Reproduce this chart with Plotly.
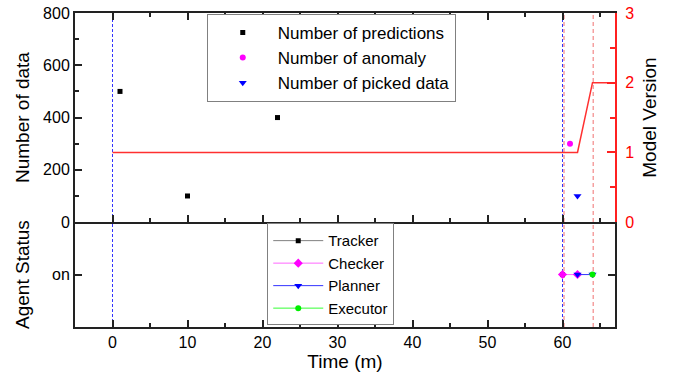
import plotly.graph_objects as go

# ---- data ----
pred_x = [1, 10, 22]
pred_y = [500, 100, 400]
anom_x = [61]
anom_y = [300]
pick_x = [62]
pick_y = [100]
ver_x = [0, 62, 64, 67]
ver_y = [1, 1, 2, 2]
tracker_x = [60]
checker_x = [60, 62]
planner_x = [62, 64]
executor_x = [64]
status_on = 1
blue_lines = [0, 60]
red_lines = [60.2, 64.1]

FONT = "Arial, Liberation Sans, sans-serif"
AX = "#222222"

fig = go.Figure()

fig.add_trace(go.Scatter(x=pred_x, y=pred_y, mode="markers", name="Number of predictions",
                         marker=dict(symbol="square", size=5, color="black"),
                         xaxis="x", yaxis="y", legend="legend"))
fig.add_trace(go.Scatter(x=anom_x, y=anom_y, mode="markers", name="Number of anomaly",
                         marker=dict(symbol="circle", size=6, color="#ff00ff"),
                         xaxis="x", yaxis="y", legend="legend"))
fig.add_trace(go.Scatter(x=pick_x, y=pick_y, mode="markers", name="Number of picked data",
                         marker=dict(symbol="triangle-down", size=7, color="#0000ff"),
                         xaxis="x", yaxis="y", legend="legend"))
fig.add_trace(go.Scatter(x=ver_x, y=ver_y, mode="lines", showlegend=False,
                         line=dict(color="#ff3030", width=1.5),
                         xaxis="x", yaxis="y2"))

fig.add_trace(go.Scatter(x=tracker_x, y=[status_on] * len(tracker_x), mode="lines+markers", name="Tracker",
                         line=dict(color="#808080", width=1),
                         marker=dict(symbol="square", size=5, color="black"),
                         xaxis="x2", yaxis="y3", legend="legend2"))
fig.add_trace(go.Scatter(x=checker_x, y=[status_on] * len(checker_x), mode="lines+markers", name="Checker",
                         line=dict(color="#ff66ff", width=1),
                         marker=dict(symbol="diamond", size=7, color="#ff00ff"),
                         xaxis="x2", yaxis="y3", legend="legend2"))
fig.add_trace(go.Scatter(x=planner_x, y=[status_on] * len(planner_x), mode="lines+markers", name="Planner",
                         line=dict(color="#3333ff", width=1),
                         marker=dict(symbol="triangle-down", size=7, color="#0000ff"),
                         xaxis="x2", yaxis="y3", legend="legend2"))
fig.add_trace(go.Scatter(x=executor_x, y=[status_on] * len(executor_x), mode="lines+markers", name="Executor",
                         line=dict(color="#33ff33", width=1),
                         marker=dict(symbol="circle", size=6, color="#00ee00"),
                         xaxis="x2", yaxis="y3", legend="legend2"))

shapes = []
for v in red_lines:
    shapes.append(dict(type="line", xref="x", yref="paper", x0=v, x1=v, y0=0, y1=1,
                       line=dict(color="#f5a0a0", width=1.5, dash="4px,3px"), layer="below"))
for v in blue_lines:
    shapes.append(dict(type="line", xref="x", yref="paper", x0=v, x1=v, y0=0, y1=1,
                       line=dict(color="#3333ff", width=1, dash="3px,2px"), layer="below"))

split = 0.334
xcommon = dict(range=[-5, 67], dtick=10, tick0=0, ticks="inside", ticklen=7, tickwidth=2,
               tickcolor=AX, showline=True, linecolor=AX, linewidth=2, showgrid=False,
               zeroline=False, automargin=False,
               minor=dict(dtick=5, ticks="inside", ticklen=4, tickwidth=2, tickcolor=AX),
               tickfont=dict(family=FONT, size=16, color="black"))

fig.update_layout(
    width=684, height=379,
    margin=dict(l=75, r=69, t=13, b=52, autoexpand=False),
    paper_bgcolor="white", plot_bgcolor="white",
    font=dict(family=FONT, color="black"),
    shapes=shapes,
    xaxis=dict(xcommon, anchor="y", showticklabels=False, mirror="ticks"),
    xaxis2=dict(xcommon, anchor="y3", matches="x", mirror=False,
                title=dict(text="Time (m)", font=dict(family=FONT, size=19), standoff=1)),
    yaxis=dict(domain=[split, 1], range=[0, 800], dtick=200, ticks="inside", ticklen=7, tickwidth=2,
               tickcolor=AX, showline=True, linecolor=AX, linewidth=2, showgrid=False, zeroline=False,
               automargin=False,
               minor=dict(dtick=100, ticks="inside", ticklen=4, tickwidth=2, tickcolor=AX),
               tickfont=dict(family=FONT, size=16, color="black"),
               title=dict(text="Number of data", font=dict(family=FONT, size=19), standoff=8)),
    yaxis2=dict(overlaying="y", side="right", anchor="x", range=[0, 3], dtick=1,
                ticks="inside", ticklen=8, tickwidth=2, tickcolor="#ff2020", automargin=False,
                showline=True, linecolor="#ff2020", linewidth=2, showgrid=False, zeroline=False,
                ticklabelstandoff=5,
                minor=dict(dtick=0.5, ticks="inside", ticklen=5, tickwidth=2, tickcolor="#ff2020"),
                tickfont=dict(family=FONT, size=16, color="#ff0000"),
                title=dict(text="Model Version", font=dict(family=FONT, size=19, color="black"), standoff=10)),
    yaxis3=dict(domain=[0, split], range=[0, 2], tickvals=[status_on], ticktext=["on"],
                ticks="inside", ticklen=7, tickwidth=2, tickcolor=AX, anchor="x2", automargin=False,
                showline=True, linecolor=AX, linewidth=2, mirror="ticks", showgrid=False, zeroline=False,
                tickfont=dict(family=FONT, size=16, color="black"),
                title=dict(text="Agent Status", font=dict(family=FONT, size=19), standoff=17)),
    legend=dict(x=0.244, y=0.997, xanchor="left", yanchor="top", bgcolor="white",
                bordercolor="#808080", borderwidth=1, itemwidth=60, tracegroupgap=0,
                font=dict(family=FONT, size=17, color="black")),
    legend2=dict(x=0.356, y=0.33, xanchor="left", yanchor="top", bgcolor="white",
                 bordercolor="#808080", borderwidth=1, itemwidth=50, tracegroupgap=0,
                 font=dict(family=FONT, size=15, color="black")),
)

fig.write_html("out.html", config={"displayModeBar": False},
               post_script="document.body.style.margin='0px';")
